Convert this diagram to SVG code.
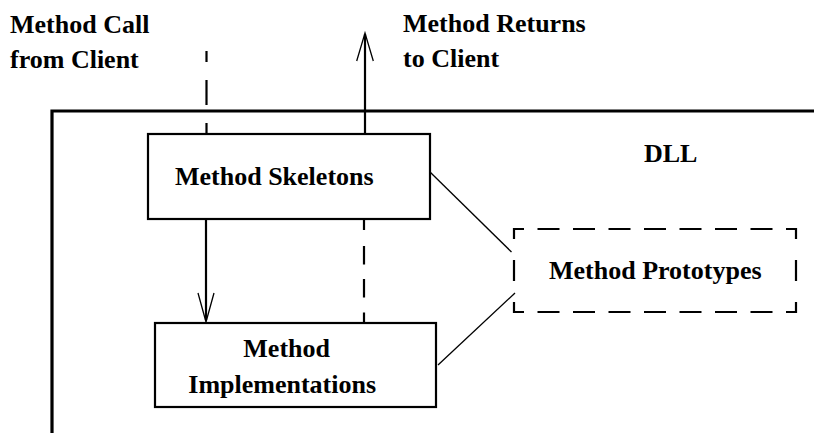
<svg xmlns="http://www.w3.org/2000/svg" width="814" height="433" viewBox="0 0 814 433">
  <style>
    .lbl { font-family: 'Liberation Serif', 'Times New Roman', serif; font-weight: bold; font-size: 26px; fill: #000; }
    .box { fill: #fff; stroke: #000; stroke-width: 2.2; }
    .frame { fill: none; stroke: #000; stroke-width: 3.2; }
    .wire { fill: none; stroke: #000; stroke-width: 2.2; }
    .thin { fill: none; stroke: #000; stroke-width: 1.3; }
    .dash { fill: none; stroke: #000; stroke-width: 2.2; }
  </style>
  <rect width="814" height="433" fill="#fff"/>

  <!-- DLL boundary -->
  <g id="dll">
    <polyline class="frame" points="52,433 52,111 814,111"/>
    <text class="lbl" x="644" y="162">DLL</text>
  </g>

  <!-- connectors -->
  <g id="connectors">
    <!-- incoming call (dashed) -->
    <line class="dash" x1="206.5" y1="134" x2="206.5" y2="51" stroke-dasharray="11 18 25 18 11"/>
    <!-- return to client -->
    <line class="wire" x1="365" y1="134" x2="365" y2="34"/>
    <polyline class="thin" points="356.7,61 365,33 373.3,61"/>
    <!-- skeletons to implementations -->
    <line class="wire" x1="206" y1="219" x2="206" y2="320"/>
    <polyline class="thin" points="198,293 206,322 214,293"/>
    <!-- implementations back to skeletons (dashed) -->
    <line class="dash" x1="364" y1="219" x2="364" y2="323" stroke-dasharray="11 16 18.5 14.5 18.5 15 10.5"/>
    <!-- prototype links -->
    <line class="thin" x1="430" y1="172" x2="511.5" y2="252"/>
    <line class="thin" x1="515" y1="293" x2="438" y2="365"/>
  </g>

  <g id="skeletons">
    <rect class="box" x="148" y="134" width="282" height="85"/>
    <text class="lbl" x="175" y="185">Method Skeletons</text>
  </g>

  <g id="implementations">
    <rect class="box" x="155" y="323" width="281" height="84"/>
    <text class="lbl" x="243.3" y="357">Method</text>
    <text class="lbl" x="188.3" y="393">Implementations</text>
  </g>

  <g id="prototypes">
    <path class="dash" d="M513,229 H797" stroke-dasharray="11 13.5 22 13.5 22 13.5 22 13.5 22 13.5 22 13.5 22 13.5 22 13.5 11"/>
    <path class="dash" d="M513,312 H797" stroke-dasharray="11 13.5 22 13.5 22 13.5 22 13.5 22 13.5 22 13.5 22 13.5 22 13.5 11"/>
    <path class="dash" d="M514,228 V313" stroke-dasharray="11 21 21 21 11"/>
    <path class="dash" d="M796,228 V313" stroke-dasharray="11 21 21 21 11"/>
    <text class="lbl" x="549" y="279">Method Prototypes</text>
  </g>

  <g id="client-labels">
    <text class="lbl" x="10" y="33">Method Call</text>
    <text class="lbl" x="10" y="68">from Client</text>
    <text class="lbl" x="403" y="32">Method Returns</text>
    <text class="lbl" x="403" y="67">to Client</text>
  </g>
</svg>
